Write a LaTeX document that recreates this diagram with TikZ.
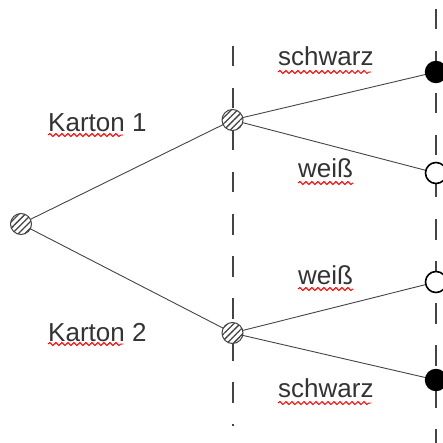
\documentclass[tikz,border=0pt]{standalone}
\usepackage{fontspec}
\setmainfont{Liberation Sans}
\usetikzlibrary{patterns.meta,decorations.pathmorphing,calc}
\definecolor{ink}{HTML}{333333}
\definecolor{edge}{HTML}{444444}
\tikzset{
  branch/.style={draw=edge, line width=0.9pt},
  divider/.style={draw=edge, line width=1.2pt, dash pattern=on 20.5pt off 21.5pt},
  hatched/.style={circle, minimum size=21pt, inner sep=0pt, draw=edge, line width=1pt,
    preaction={fill=white},
    pattern={Lines[angle=45, distance=4.5pt, line width=1.3pt]}, pattern color=edge},
  ballblack/.style={circle, minimum size=21pt, inner sep=0pt, draw=black, line width=1.4pt, fill=black},
  ballwhite/.style={circle, minimum size=21pt, inner sep=0pt, draw=black, line width=1.6pt, fill=white},
  lbl/.style={text=ink, font=\fontsize{26}{30}\selectfont, inner sep=0pt, anchor=base west},
  wave/.style={draw=red, line width=0.9pt, decorate,
    decoration={snake, segment length=6pt, amplitude=1.5pt}},
}
\begin{document}
\begin{tikzpicture}[x=1pt,y=-1pt]
\useasboundingbox (0,0) rectangle (442,443);

% vertical separators between the stages
\coordinate (d1a) at (233,46);
\coordinate (d1b) at (233,426);
\coordinate (d2a) at (436,9);
\coordinate (d2b) at (436,443);
\draw[divider] (d1a) -- (d1b);
\draw[divider] (d2a) -- (d2b);

% node positions
\coordinate (pr) at (21,224);
\coordinate (p1) at (232.5,120);
\coordinate (p2) at (232.5,333);
\coordinate (q1) at (436,72);
\coordinate (q2) at (436,173);
\coordinate (q3) at (436,282);
\coordinate (q4) at (436,380);

% branches
\draw[branch] (pr) -- (p1);
\draw[branch] (pr) -- (p2);
\draw[branch] (p1) -- (q1);
\draw[branch] (p1) -- (q2);
\draw[branch] (p2) -- (q3);
\draw[branch] (p2) -- (q4);

% tree nodes
\node[hatched] (root) at (pr) {};
\node[hatched] (m1) at (p1) {};
\node[hatched] (m2) at (p2) {};
\node[ballblack] (l1) at (q1) {};
\node[ballwhite] (l2) at (q2) {};
\node[ballwhite] (l3) at (q3) {};
\node[ballblack] (l4) at (q4) {};

% labels with spell-check underlines
\node[lbl] (k1) at (48,132) {Karton 1};
\draw[wave] ($(k1.base west)+(0,3)$) -- ++(75,0);
\node[lbl] (k2) at (48,341) {Karton 2};
\draw[wave] ($(k2.base west)+(0,3)$) -- ++(75,0);
\node[lbl] (s1) at (278,66) {schwarz};
\draw[wave] ($(s1.base west)+(0,6)$) -- ++(93,0);
\node[lbl] (w1) at (298,178) {weiß};
\draw[wave] ($(w1.base west)+(0,5)$) -- ++(55,0);
\node[lbl] (w2) at (298,284) {weiß};
\draw[wave] ($(w2.base west)+(0,5)$) -- ++(55,0);
\node[lbl] (s2) at (278,397) {schwarz};
\draw[wave] ($(s2.base west)+(0,6)$) -- ++(93,0);
\end{tikzpicture}
\end{document}
